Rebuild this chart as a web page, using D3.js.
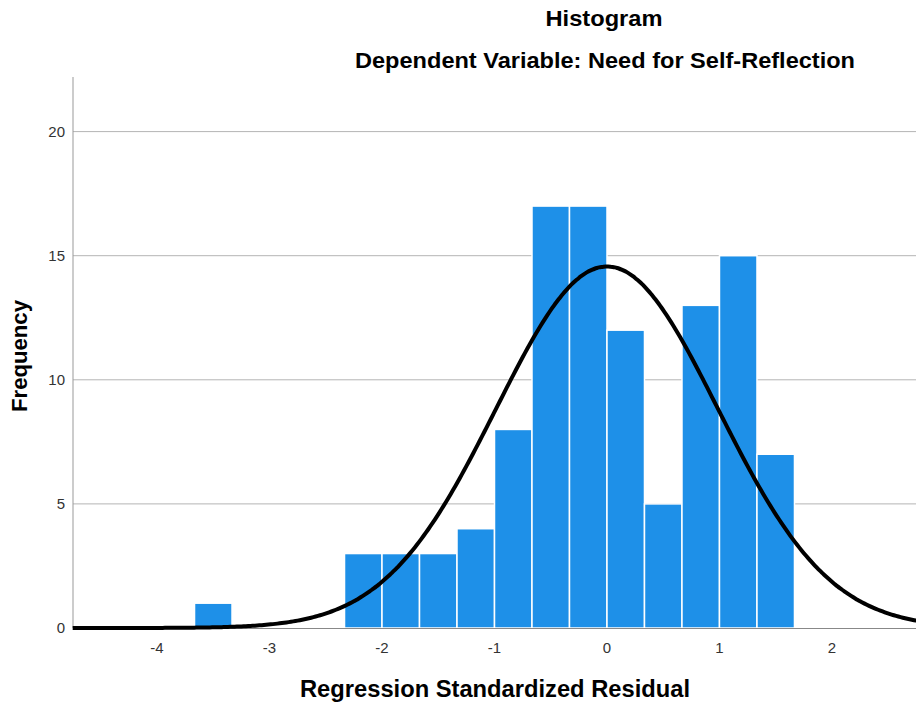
<!DOCTYPE html>
<html>
<head>
<meta charset="utf-8">
<script src="https://cdn.jsdelivr.net/npm/d3@7"></script>
<style>
  body { margin: 0; background: #fff; }
  text { font-family: "Liberation Sans", Arial, sans-serif; }
</style>
</head>
<body>
<div id="chart"></div>
<script>
//Histogram bins (lower edge, count)
const binStarts = [-11/3, -7/3, -2, -5/3, -4/3, -1, -2/3, -1/3, 0, 1/3, 2/3, 1, 4/3];
const binWidth = 1/3;
const counts = [1, 3, 3, 3, 4, 8, 17, 17, 12, 5, 13, 15, 7];

//Normal curve parameters
const mean = 0;
const stdDev = 0.986;
const N = 108;

//Axis ticks
const xTicks = [-4, -3, -2, -1, 0, 1, 2];
const yTicks = [0, 5, 10, 15, 20];

//Size of canvas and plot area
const w = 916, h = 708;
const plot = { left: 73, right: 916, top: 77, bottom: 628 };

const svg = d3.select("#chart").append("svg")
  .attr("width", w)
  .attr("height", h);

const x = d3.scaleLinear().domain([-4.747, 2.747]).range([plot.left, plot.right]);
const y = d3.scaleLinear().domain([0, 22.2]).range([plot.bottom, plot.top]);

//Gridlines
svg.append("g")
  .selectAll("line")
  .data(yTicks.filter(d => d > 0))
  .enter()
  .append("line")
  .attr("x1", plot.left).attr("x2", plot.right)
  .attr("y1", d => y(d)).attr("y2", d => y(d))
  .attr("stroke", "#b4b4b4")
  .attr("stroke-width", 1);

//Bars
svg.append("g")
  .selectAll("rect")
  .data(counts)
  .enter()
  .append("rect")
  .attr("x", (d, i) => x(binStarts[i]))
  .attr("width", (d, i) => x(binStarts[i] + binWidth) - x(binStarts[i]))
  .attr("y", d => y(d))
  .attr("height", d => y(0) - y(d))
  .attr("fill", "#1e90e8")
  .attr("stroke", "#ffffff")
  .attr("stroke-width", 1.5);

//Axis lines
svg.append("line")
  .attr("x1", plot.left).attr("x2", plot.left)
  .attr("y1", plot.top).attr("y2", plot.bottom)
  .attr("stroke", "#999").attr("stroke-width", 1);
svg.append("line")
  .attr("x1", plot.left).attr("x2", plot.right)
  .attr("y1", plot.bottom + 0.5).attr("y2", plot.bottom + 0.5)
  .attr("stroke", "#888").attr("stroke-width", 1);

//Normal curve
const curveX = d3.range(-4.75, 2.76, 0.02);
const density = v => N * binWidth / (stdDev * Math.sqrt(2 * Math.PI)) *
  Math.exp(-((v - mean) ** 2) / (2 * stdDev * stdDev));
const line = d3.line().x(d => x(d)).y(d => y(density(d))).curve(d3.curveBasis);
svg.append("path")
  .datum(curveX)
  .attr("d", line)
  .attr("fill", "none")
  .attr("stroke", "#000")
  .attr("stroke-width", 4);

//Tick labels
svg.append("g")
  .selectAll("text")
  .data(xTicks)
  .enter()
  .append("text")
  .attr("x", d => x(d))
  .attr("y", plot.bottom + 25)
  .attr("text-anchor", "middle")
  .attr("font-size", 15)
  .attr("fill", "#333")
  .text(d => d);

svg.append("g")
  .selectAll("text")
  .data(yTicks)
  .enter()
  .append("text")
  .attr("x", 65)
  .attr("y", d => y(d) + 5)
  .attr("text-anchor", "end")
  .attr("font-size", 15)
  .attr("fill", "#333")
  .text(d => d);

//Titles
svg.append("text")
  .attr("x", 604).attr("y", 26)
  .attr("text-anchor", "middle")
  .attr("font-size", 22).attr("font-weight", "bold")
  .attr("textLength", 117).attr("lengthAdjust", "spacingAndGlyphs")
  .text("Histogram");
svg.append("text")
  .attr("x", 605).attr("y", 68)
  .attr("text-anchor", "middle")
  .attr("font-size", 22).attr("font-weight", "bold")
  .attr("textLength", 500).attr("lengthAdjust", "spacingAndGlyphs")
  .text("Dependent Variable: Need for Self-Reflection");
svg.append("text")
  .attr("x", 495).attr("y", 697)
  .attr("text-anchor", "middle")
  .attr("font-size", 23).attr("font-weight", "bold")
  .attr("textLength", 390).attr("lengthAdjust", "spacingAndGlyphs")
  .text("Regression Standardized Residual");
svg.append("text")
  .attr("transform", "translate(27,356) rotate(-90)")
  .attr("text-anchor", "middle")
  .attr("font-size", 22).attr("font-weight", "bold")
  .attr("textLength", 112).attr("lengthAdjust", "spacingAndGlyphs")
  .text("Frequency");
</script>
</body>
</html>
